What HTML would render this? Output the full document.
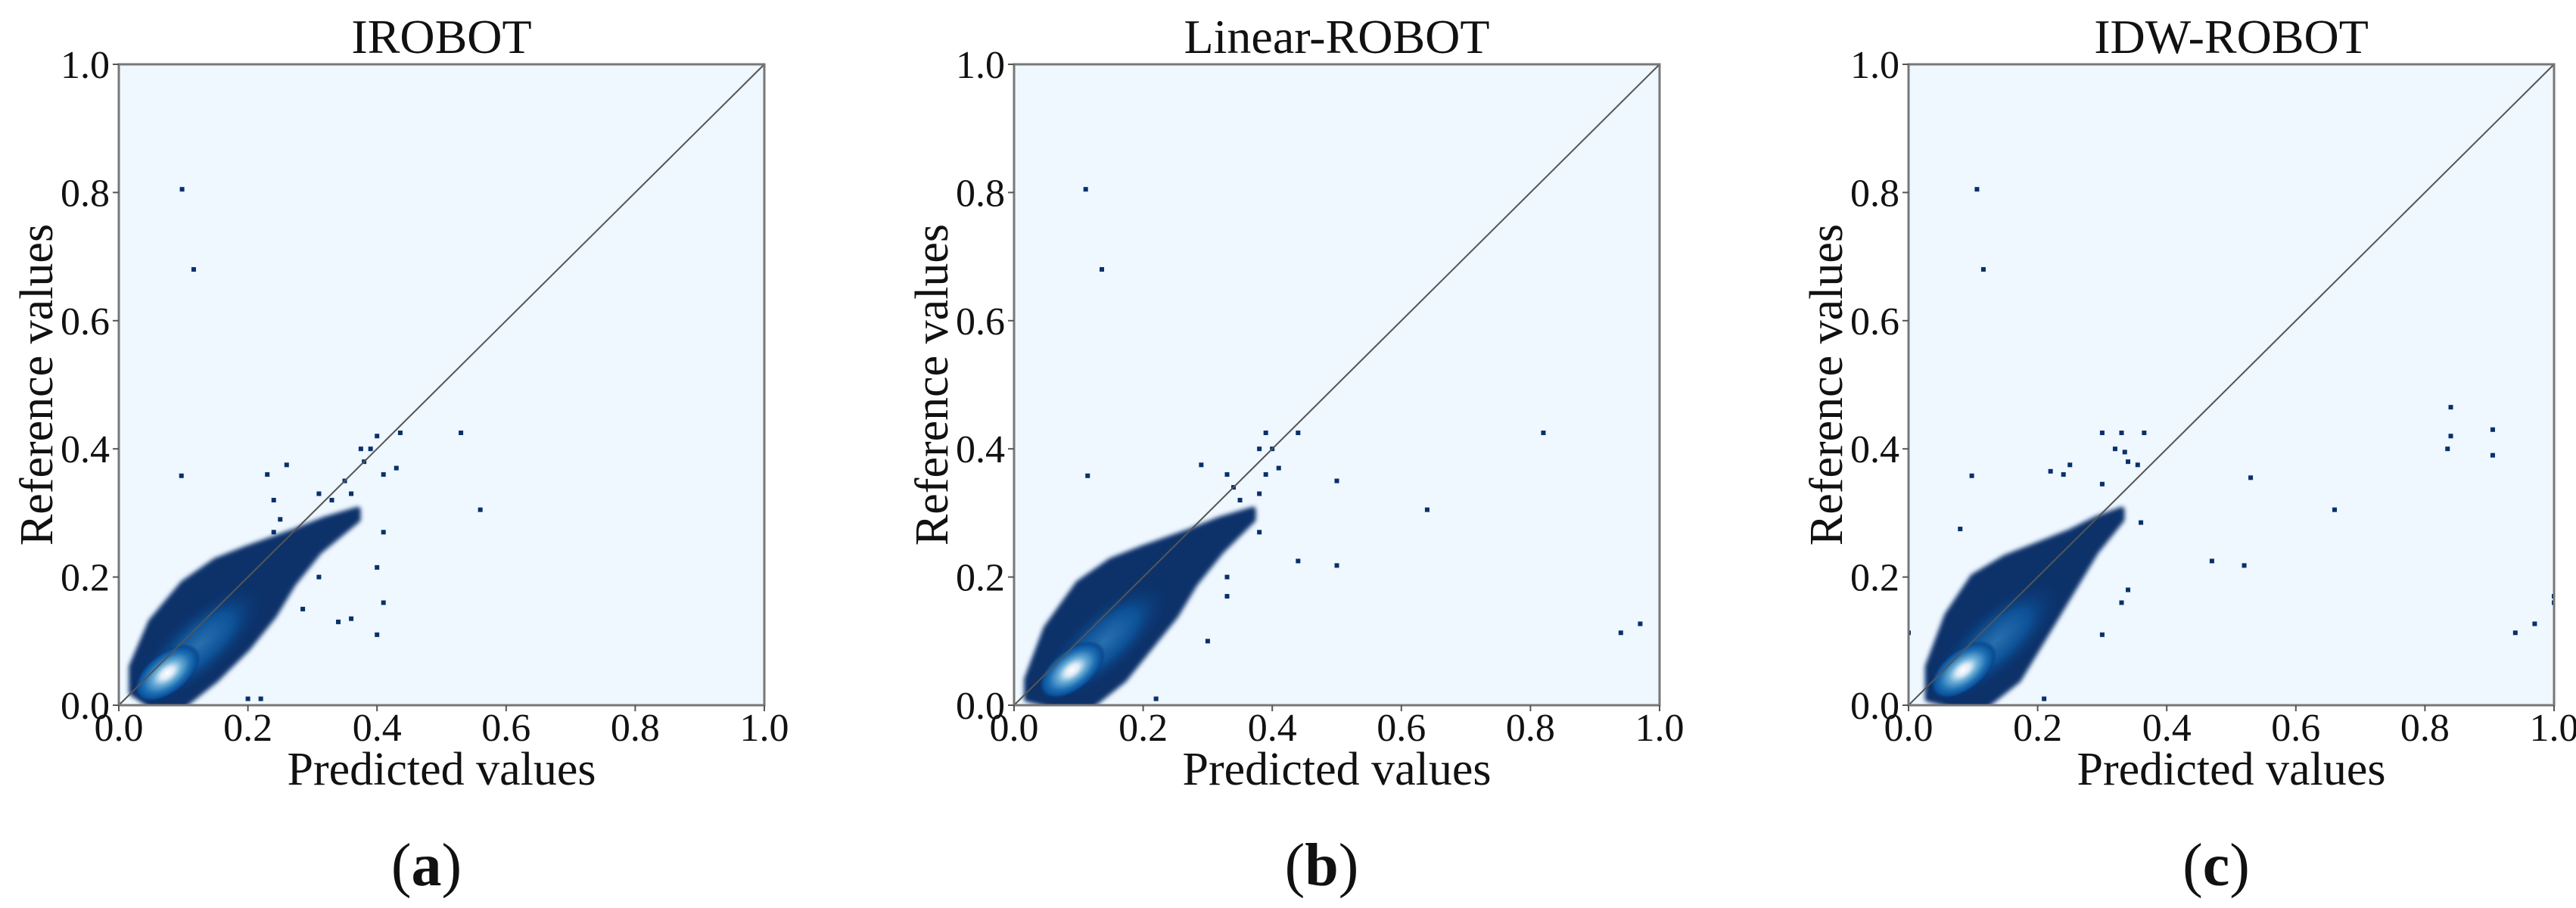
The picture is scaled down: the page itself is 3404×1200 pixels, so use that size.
<!DOCTYPE html>
<html><head><meta charset="utf-8"><style>
html,body{margin:0;padding:0;background:#fff;}
svg{display:block;font-family:"Liberation Serif",serif;}
</style></head><body>
<svg id="fig" width="3404" height="1200" viewBox="0 0 3404 1200" xmlns="http://www.w3.org/2000/svg">
<defs>
<radialGradient id="core" cx="0.5" cy="0.5" r="0.5">
<stop offset="0" stop-color="#ffffff"/>
<stop offset="0.2" stop-color="#deebf7"/>
<stop offset="0.42" stop-color="#6baed6"/>
<stop offset="0.68" stop-color="#2171b5"/>
<stop offset="0.88" stop-color="#08519c"/>
<stop offset="1" stop-color="#08306b" stop-opacity="0"/>
</radialGradient>
<radialGradient id="glowg" cx="0.5" cy="0.5" r="0.5">
<stop offset="0" stop-color="#2f7fc0"/>
<stop offset="0.5" stop-color="#0d5aa3"/>
<stop offset="1" stop-color="#08306b" stop-opacity="0"/>
</radialGradient>
<filter id="soft"><feGaussianBlur stdDeviation="3"/></filter>
</defs>
</svg>
<script>
const ticks = [0, 0.2, 0.4, 0.6, 0.8, 1.0];
const tickLabels = ["0.0","0.2","0.4","0.6","0.8","1.0"];
const titles = ["IROBOT","Linear-ROBOT","IDW-ROBOT"];
const letters = ["(a)","(b)","(c)"];

const a_outX = [0.098,0.116,0.097,0.53,0.56,0.40,0.436,0.375,0.39,0.41,0.43,0.38,0.41,0.40,0.41,0.40,0.36,0.34,0.26,0.23,0.24,0.35,0.36,0.31,0.33,0.25,0.24,0.31,0.285,0.2,0.22];
const a_outY = [0.805,0.68,0.358,0.425,0.305,0.42,0.425,0.40,0.40,0.36,0.37,0.38,0.27,0.215,0.16,0.11,0.135,0.13,0.375,0.36,0.32,0.35,0.33,0.33,0.32,0.29,0.27,0.2,0.15,0.01,0.01];
const b_outX = [0.111,0.136,0.114,0.82,0.64,0.44,0.5,0.44,0.5,0.94,0.97,0.39,0.38,0.40,0.41,0.39,0.33,0.29,0.34,0.38,0.35,0.38,0.30,0.33,0.33,0.22];
const b_outY = [0.805,0.68,0.358,0.425,0.305,0.425,0.35,0.225,0.218,0.113,0.127,0.425,0.40,0.40,0.37,0.36,0.36,0.375,0.34,0.33,0.32,0.27,0.10,0.20,0.17,0.01];
const c_outX = [0.106,0.116,0.098,0.84,0.84,0.835,0.905,0.905,0.53,0.66,0.47,0.52,0.94,0.97,1.0,1.0,0.3,0.33,0.365,0.32,0.335,0.34,0.355,0.22,0.24,0.25,0.3,0.36,0.34,0.33,0.3,0.0,0.08,0.21];
const c_outY = [0.805,0.68,0.358,0.465,0.42,0.40,0.43,0.39,0.355,0.305,0.225,0.218,0.113,0.127,0.16,0.17,0.425,0.425,0.425,0.40,0.395,0.38,0.375,0.365,0.36,0.375,0.345,0.285,0.18,0.16,0.11,0.113,0.275,0.01];

const a_hullX = [0.02,0.05,0.1,0.15,0.2,0.24,0.27,0.31,0.37,0.37,0.32,0.27,0.2,0.15,0.1,0.05,0.02];
const a_hullY = [0.02,0.0,0.0,0.04,0.09,0.14,0.19,0.24,0.29,0.305,0.29,0.27,0.245,0.225,0.19,0.13,0.06];
const b_hullX = [0.02,0.06,0.12,0.17,0.21,0.25,0.28,0.32,0.37,0.37,0.32,0.27,0.2,0.15,0.1,0.05,0.02];
const b_hullY = [0.01,0.0,0.0,0.04,0.09,0.14,0.19,0.24,0.29,0.305,0.29,0.27,0.245,0.225,0.19,0.12,0.04];
const c_hullX = [0.03,0.07,0.12,0.17,0.2,0.23,0.26,0.29,0.33,0.33,0.29,0.25,0.2,0.15,0.1,0.06,0.03];
const c_hullY = [0.01,0.0,0.0,0.04,0.09,0.14,0.19,0.24,0.29,0.305,0.29,0.27,0.25,0.23,0.2,0.14,0.06];

const coreX = [0.075,0.09,0.085];
const coreY = [0.05,0.055,0.055];

const panelLeft = [157,1340,2522];
const AX_TOP = 85, AX_W = 853, AX_H = 847;
const NS = "http://www.w3.org/2000/svg";
const svg = document.getElementById('fig');

function mk(tag, attrs, parent){
  const e = document.createElementNS(NS, tag);
  for (const k in attrs) e.setAttribute(k, attrs[k]);
  (parent||svg).appendChild(e);
  return e;
}

function drawPanel(i, outX, outY, hullX, hullY){
  const L = panelLeft[i];
  const sx = v => L + v*AX_W;
  const sy = v => AX_TOP + AX_H - v*AX_H;
  const g = mk('g', {});
  
  

  const bg = mk('rect', {x:L, y:AX_TOP, width:AX_W, height:AX_H, fill:'#eff7ff'}, g);
  
  

  const clip = mk('clipPath', {id:'clip'+i}, g);
  mk('rect', {x:L, y:AX_TOP, width:AX_W, height:AX_H}, clip);
  const inner = mk('g', {'clip-path':'url(#clip'+i+')'}, g);

  let pts = hullX.map((x,k)=> sx(x).toFixed(1)+','+sy(hullY[k]).toFixed(1)).join(' ');
  const hull = mk('polygon', {points:pts, fill:'#08306b', stroke:'#08306b', 'stroke-width':8, 'stroke-linejoin':'round', filter:'url(#soft)'}, inner);
  
  

  const cx = sx(coreX[i]+0.05), cy = sy(coreY[i]+0.045);
  const glow = mk('ellipse', {cx:cx, cy:cy, rx:AX_W*0.13, ry:AX_W*0.05, fill:'url(#glowg)', opacity:0.8, transform:'rotate(-42 '+cx+' '+cy+')'}, inner);
  
  
  const ccx = sx(coreX[i]), ccy = sy(coreY[i]);
  const core = mk('ellipse', {cx:ccx, cy:ccy, rx:AX_W*0.06, ry:AX_W*0.032, fill:'url(#core)', transform:'rotate(-38 '+ccx+' '+ccy+')'}, inner);
  
  

  outX.forEach((x,k)=>{
    const p = mk('rect', {x:sx(x)-3, y:sy(outY[k])-3, width:6, height:6, fill:'#08306b'}, inner);
    
    
  });

  const diag = mk('line', {x1:sx(0), y1:sy(0), x2:sx(1), y2:sy(1), stroke:'#555', 'stroke-width':2}, g);
  
  

  const frame = mk('rect', {x:L, y:AX_TOP, width:AX_W, height:AX_H, fill:'none', stroke:'#777', 'stroke-width':3}, g);
  
  

  ticks.forEach((t,k)=>{
    mk('line', {x1:sx(t), y1:AX_TOP+AX_H, x2:sx(t), y2:AX_TOP+AX_H+8, stroke:'#555', 'stroke-width':2}, g);
    const xl = mk('text', {x:sx(t), y:979, 'font-size':52, 'text-anchor':'middle', fill:'#111'}, g);
    xl.textContent = tickLabels[k];
    
    
    mk('line', {x1:L-8, y1:sy(t), x2:L, y2:sy(t), stroke:'#555', 'stroke-width':2}, g);
    const yl = mk('text', {x:L-12, y:sy(t)+18, 'font-size':52, 'text-anchor':'end', fill:'#111'}, g);
    yl.textContent = tickLabels[k];
    
    
  });

  const title = mk('text', {x:L+AX_W/2, y:70, 'font-size':64, 'text-anchor':'middle', fill:'#111'}, g);
  title.textContent = titles[i];
  
  

  const xt = mk('text', {x:L+AX_W/2, y:1037, 'font-size':62, 'text-anchor':'middle', fill:'#111'}, g);
  xt.textContent = 'Predicted values';
  
  

  const yx = L-88, yy = AX_TOP+AX_H/2;
  const yt = mk('text', {x:yx, y:yy, 'font-size':62, 'text-anchor':'middle', fill:'#111', transform:'rotate(-90 '+yx+' '+yy+')'}, g);
  yt.textContent = 'Reference values';
  
  

  const lt = mk('text', {x:L+AX_W/2-20, y:1170, 'font-size':80, 'text-anchor':'middle', fill:'#111'}, g);
  lt.innerHTML = '(<tspan font-weight="bold">' + letters[i].slice(1,2) + '</tspan>)';
  
  
}

drawPanel(0, a_outX, a_outY, a_hullX, a_hullY);
drawPanel(1, b_outX, b_outY, b_hullX, b_hullY);
drawPanel(2, c_outX, c_outY, c_hullX, c_hullY);
</script>
</body></html>
